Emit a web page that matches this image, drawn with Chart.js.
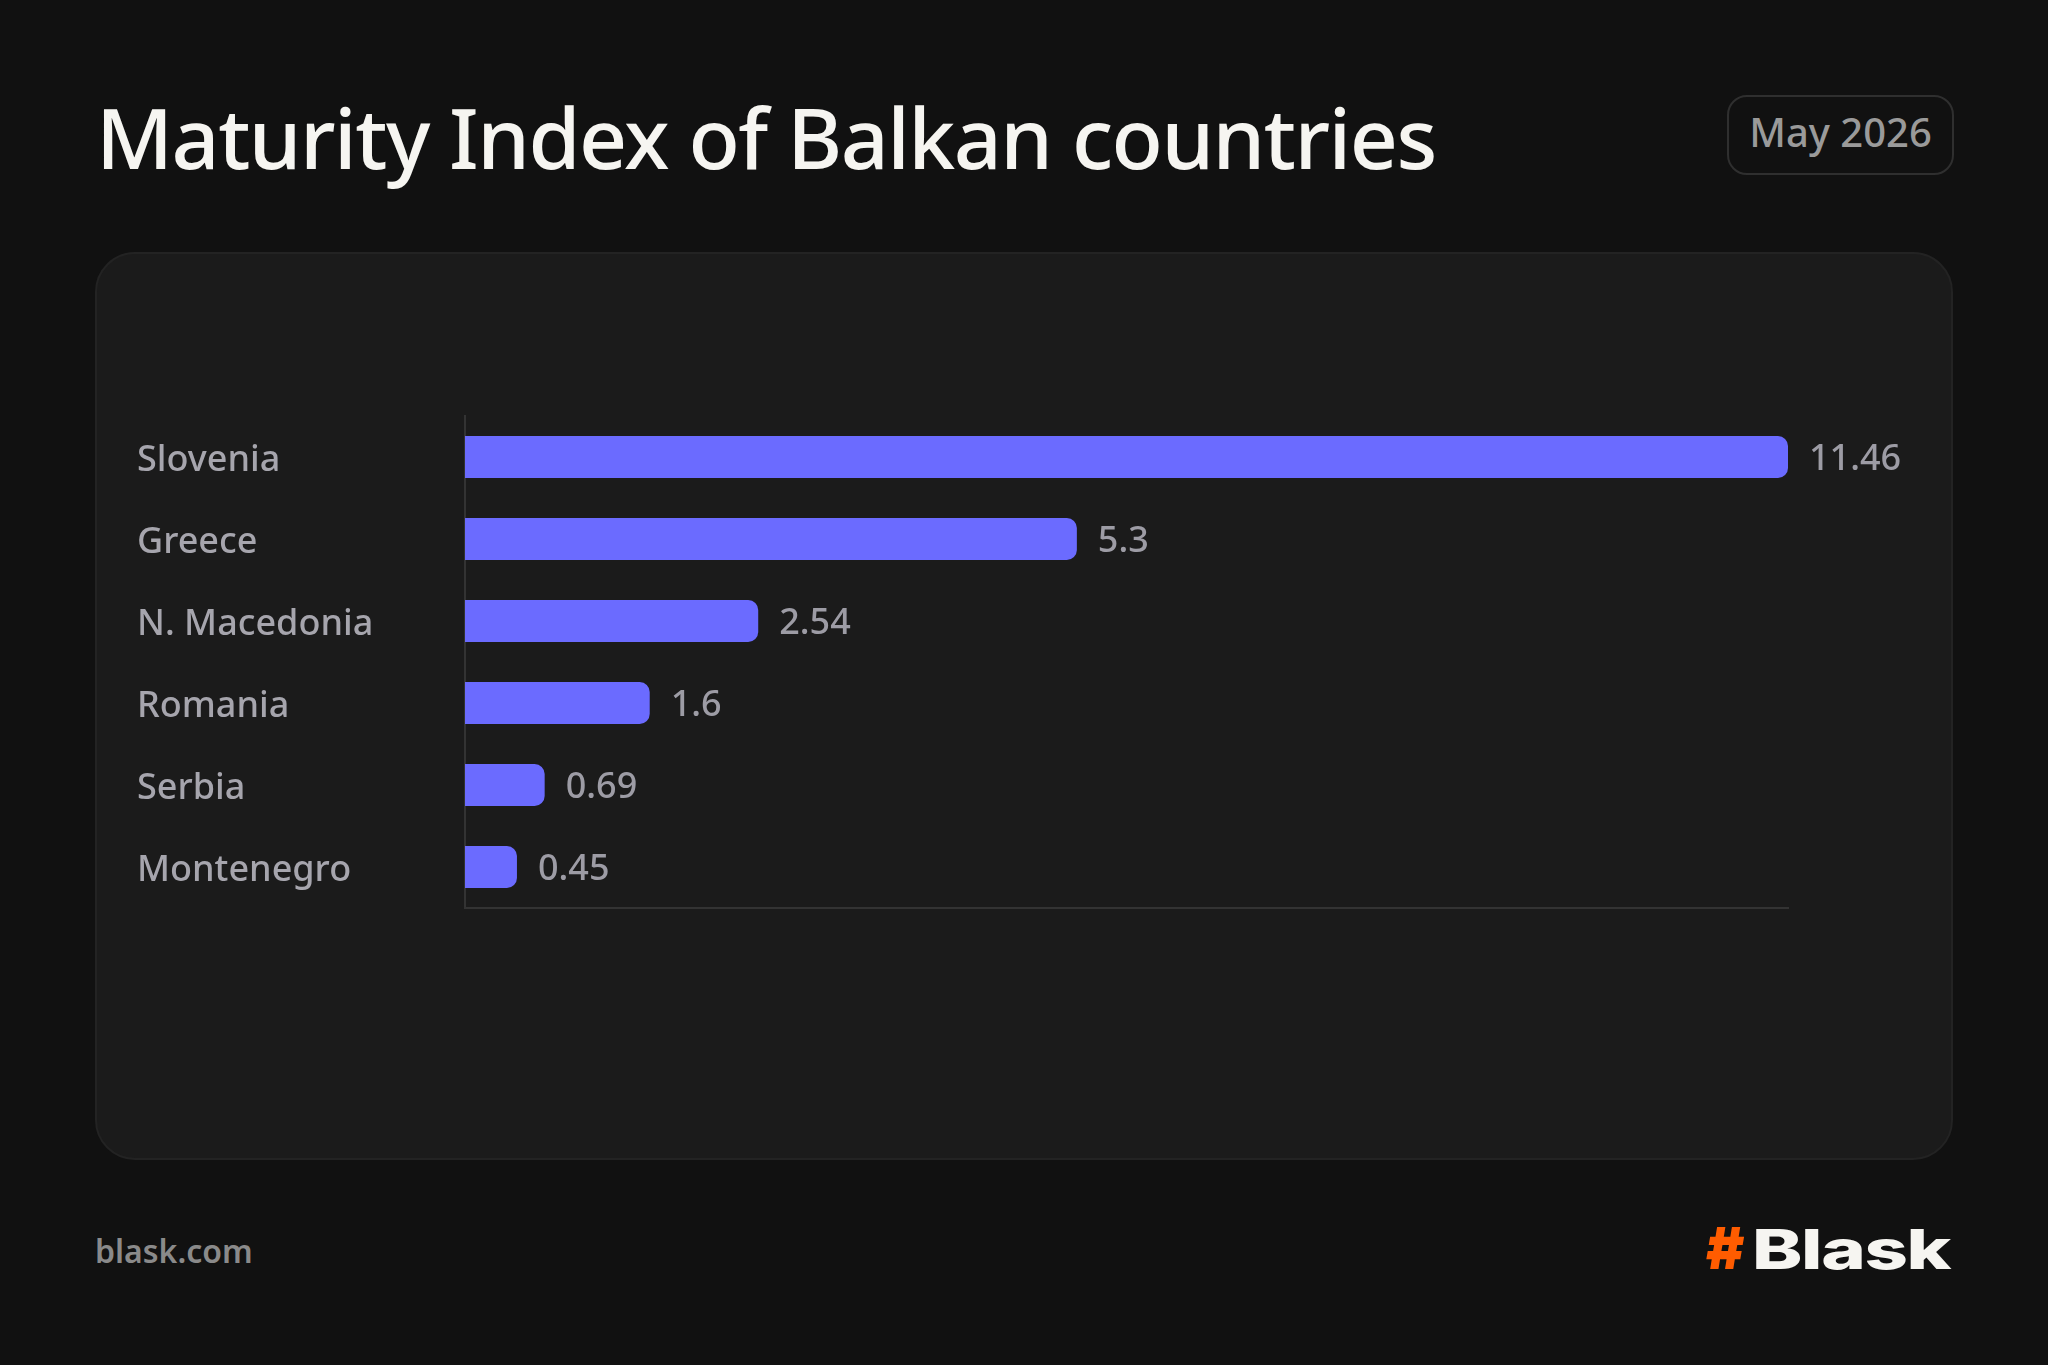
<!DOCTYPE html>
<html>
<head>
<meta charset="utf-8">
<script src="https://cdn.jsdelivr.net/npm/chart.js@4"></script>
<style>
  html, body { margin:0; padding:0; }
  body { width:2048px; height:1365px; background:#111111; position:relative; overflow:hidden; font-family:"Noto Sans", sans-serif; }
  #title { position:absolute; left:96px; top:79px; font-size:84px; font-weight:500; color:#f6f5f1; white-space:nowrap; letter-spacing:-1.5px; }
  #badge { position:absolute; left:1727px; top:95px; width:223px; height:76px; border:2px solid #2f2f2f; border-radius:20px; box-sizing:content-box; }
  #badge span { position:absolute; left:0; right:0; top:50%; transform:translateY(-57%); text-align:center; font-size:40px; font-weight:500; color:#9a9a9a; }
  #card { position:absolute; left:95px; top:252px; width:1854px; height:904px; background:#1b1b1b; border:2px solid #232323; border-radius:40px; }
  #chartWrap { position:absolute; left:0; top:0; width:1854px; height:904px; }
  #footer { position:absolute; left:95px; top:1229px; font-size:32px; font-weight:600; color:#8a8a8a; }
  #logo { position:absolute; left:1706px; top:1213px; white-space:nowrap; }
  #logo .hash { color:#ff5c00; font-family:"Inter", sans-serif; font-weight:900; font-size:58px; }
  #logo .name { color:#f6f5f1; font-family:"Inter", sans-serif; font-weight:800; font-size:55px; display:inline-block; transform:scaleX(1.38); transform-origin:left center; margin-left:8px; letter-spacing:-1px; }
</style>
</head>
<body>
<div id="title">Maturity Index of Balkan countries</div>
<div id="badge"><span>May 2026</span></div>
<div id="card"><div id="chartWrap"><canvas id="c"></canvas></div></div>
<div id="footer">blask.com</div>
<div id="logo"><span class="hash">#</span><span class="name">Blask</span></div>
<script>
const categories = ["Slovenia", "Greece", "N. Macedonia", "Romania", "Serbia", "Montenegro"];
const values = [11.46, 5.3, 2.54, 1.6, 0.69, 0.45];
const valueLabels = ["11.46", "5.3", "2.54", "1.6", "0.69", "0.45"];

const valueLabelPlugin = {
  id: 'valueLabels',
  afterDatasetsDraw(chart) {
    const ctx = chart.ctx;
    const meta = chart.getDatasetMeta(0);
    ctx.save();
    ctx.font = '500 36px "Noto Sans"';
    ctx.fillStyle = '#9d9ca5';
    ctx.textAlign = 'left';
    ctx.textBaseline = 'middle';
    meta.data.forEach((bar, i) => {
      ctx.fillText(valueLabels[i], bar.x + 21, bar.y + 3);
    });
    ctx.restore();
  }
};

new Chart(document.getElementById('c'), {
  type: 'bar',
  data: {
    labels: categories,
    datasets: [{
      data: values,
      backgroundColor: '#6b6bff',
      borderWidth: 0,
      borderRadius: 10,
      borderSkipped: 'start',
      barPercentage: 0.51,
      categoryPercentage: 1.0
    }]
  },
  options: {
    indexAxis: 'y',
    responsive: true,
    maintainAspectRatio: false,
    animation: false,
    devicePixelRatio: 1,
    layout: { padding: { left: 40, right: 163, top: 162, bottom: 250 } },
    plugins: { legend: { display: false }, tooltip: { enabled: false } },
    scales: {
      x: {
        min: 0, max: 11.46,
        grid: { display: false },
        border: { display: true, color: '#333333', width: 2 },
        ticks: { display: false },
        afterFit(s) { s.height = 0; }
      },
      y: {
        grid: { display: false },
        border: { display: true, color: '#333333', width: 2 },
        ticks: {
          color: '#a6a5ad',
          font: { family: '"Noto Sans"', size: 36, weight: 500 },
          crossAlign: 'far',
          padding: 0,
          labelOffset: 4
        },
        afterFit(s) { s.width = 328; }
      }
    }
  },
  plugins: [valueLabelPlugin]
});
</script>
</body>
</html>
